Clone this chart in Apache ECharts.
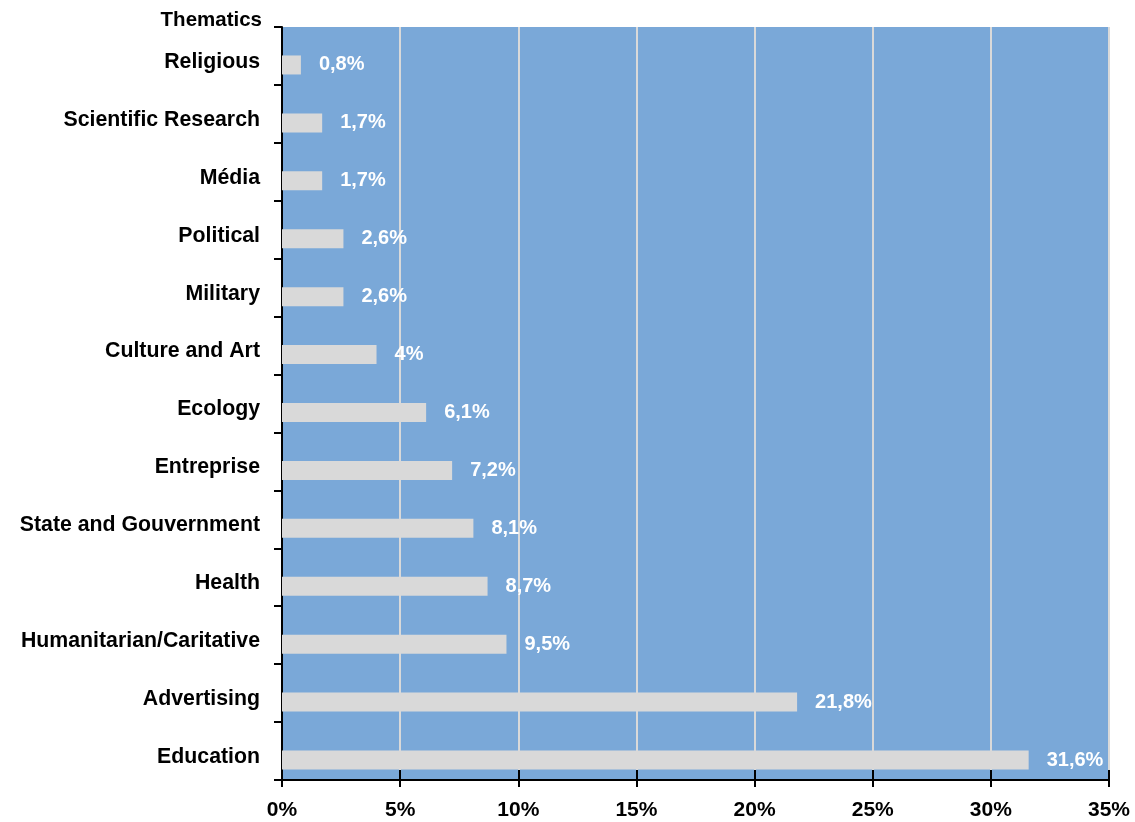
<!DOCTYPE html>
<html>
<head>
<meta charset="utf-8">
<script src="https://cdn.jsdelivr.net/npm/echarts@6/dist/echarts.min.js"></script>
<style>
html,body{margin:0;padding:0;background:#fff;}
#chart{width:1135px;height:822px;}
</style>
</head>
<body>
<div id="chart"></div>
<script>
// Categories listed bottom -> top
var categories = ['Education','Advertising','Humanitarian/Caritative','Health','State and Gouvernment','Entreprise','Ecology','Culture and Art','Military','Political','Média','Scientific Research','Religious'];
var values = [31.6, 21.8, 9.5, 8.7, 8.1, 7.2, 6.1, 4, 2.6, 2.6, 1.7, 1.7, 0.8];
var valueLabels = ['31,6%','21,8%','9,5%','8,7%','8,1%','7,2%','6,1%','4%','2,6%','2,6%','1,7%','1,7%','0,8%'];
var xTicks = [0, 5, 10, 15, 20, 25, 30, 35];
var axisTitle = 'Thematics';

var FONT = '"Liberation Sans", Arial, sans-serif';
var chart = echarts.init(document.getElementById('chart'), null, {renderer:'canvas'});
var xMin = xTicks[0], xMax = xTicks[xTicks.length-1], xStep = xTicks[1]-xTicks[0];

chart.setOption({
  animation:false,
  backgroundColor:'#ffffff',
  title:{
    text: axisTitle, right: 873, top: 10, padding:0,
    textStyle:{fontFamily:FONT, fontWeight:'bold', fontSize:20.5, color:'#000'}
  },
  grid:{left:282, right:26, top:27, bottom:42, show:true, backgroundColor:'#7aa8d8', borderWidth:0},
  xAxis:[{
    type:'value', min:xMin, max:xMax, interval:xStep,
    axisLine:{show:true, lineStyle:{color:'#000', width:2}},
    axisTick:{show:true, length:7, lineStyle:{color:'#000', width:2}},
    axisLabel:{formatter:'{value}%', margin:20, fontFamily:FONT, fontWeight:'bold', fontSize:21, color:'#000'},
    splitLine:{show:true, lineStyle:{color:'#d9d9d9', width:2}}
  },{
    type:'value', position:'bottom', min:xMin, max:xMax, interval:xStep,
    axisLine:{show:false},
    axisTick:{show:true, inside:true, length:10, lineStyle:{color:'#000', width:2}},
    axisLabel:{show:false},
    splitLine:{show:false}
  }],
  yAxis:{
    type:'category', data:categories,
    axisLine:{show:true, lineStyle:{color:'#000', width:2}},
    axisTick:{show:true, length:8, lineStyle:{color:'#000', width:2}},
    axisLabel:{margin:22, fontFamily:FONT, fontWeight:'bold', fontSize:21.3, color:'#000', verticalAlign:'top', lineHeight:12},
    splitLine:{show:false}
  },
  series:[{
    type:'bar', xAxisIndex:0, barWidth:18, barGap:0,
    data: categories.map(function(){return null;}),
    itemStyle:{color:'rgba(0,0,0,0)'},
    silent:true
  },{
    type:'bar', xAxisIndex:0, barWidth:19, barGap:0,
    data: values,
    itemStyle:{color:'#d9d9d9'},
    label:{
      show:true, position:'right', distance:18,
      fontFamily:FONT, fontWeight:'bold', fontSize:20, color:'#ffffff',
      formatter:function(p){return valueLabels[p.dataIndex];}
    }
  }]
});
</script>
</body>
</html>
